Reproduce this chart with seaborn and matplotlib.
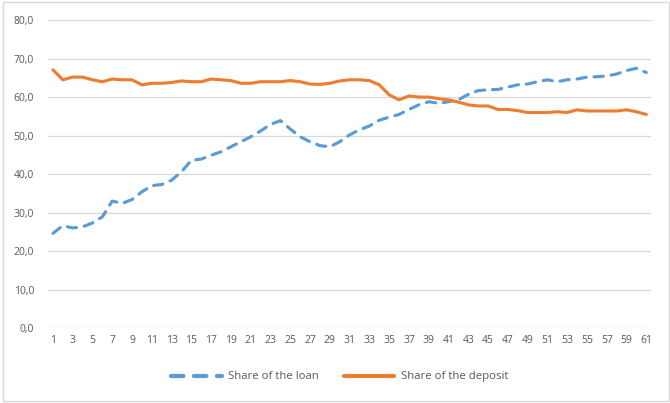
import numpy as np
import matplotlib.pyplot as plt
import pandas as pd
import seaborn as sns

periods = list(range(1, 62))
loan = [24.6, 26.6, 26.0, 26.3, 27.3, 28.9, 33.0, 32.4, 33.4, 35.4,
        37.0, 37.3, 38.4, 40.6, 43.6, 43.9, 44.9, 45.8, 47.1, 48.4,
        49.7, 51.2, 52.9, 53.9, 51.7, 49.7, 48.4, 47.4, 47.1, 48.4,
        50.2, 51.5, 52.5, 54.0, 54.8, 55.5, 56.8, 58.0, 58.8, 58.4,
        58.8, 59.3, 60.7, 61.7, 61.9, 62.0, 62.6, 63.2, 63.4, 64.0,
        64.5, 64.0, 64.5, 64.7, 65.2, 65.3, 65.5, 66.0, 66.9, 67.5, 66.4]
deposit = [67.1, 64.5, 65.2, 65.2, 64.5, 64.0, 64.7, 64.5, 64.5, 63.2,
           63.6, 63.6, 63.8, 64.2, 64.0, 64.0, 64.7, 64.5, 64.3, 63.6,
           63.6, 64.0, 64.0, 64.0, 64.3, 64.0, 63.4, 63.3, 63.6, 64.2,
           64.5, 64.5, 64.3, 63.2, 60.6, 59.3, 60.3, 60.0, 60.0, 59.6,
           59.3, 58.7, 58.0, 57.7, 57.7, 56.8, 56.8, 56.5, 56.0, 56.0,
           56.0, 56.2, 56.0, 56.7, 56.4, 56.4, 56.4, 56.4, 56.7, 56.2, 55.5]

df = pd.DataFrame({"period": periods * 2,
                   "value": loan + deposit,
                   "series": ["Share of the loan"] * 61 + ["Share of the deposit"] * 61})

sns.set_style("white")
plt.rcParams['font.family'] = ['Open Sans', 'DejaVu Sans']

fig = plt.figure(figsize=(6.7, 4.03), dpi=100)
ax = fig.add_axes([0.0716, 0.186, 0.9004, 0.764])

sns.lineplot(data=df, x="period", y="value", hue="series", style="series",
             palette={"Share of the loan": "#5B9BD5", "Share of the deposit": "#ED7D31"},
             dashes={"Share of the loan": (3, 2.5), "Share of the deposit": ""},
             linewidth=2.25, ax=ax)
for line in ax.lines:
    line.set_dash_capstyle("round")
    line.set_solid_capstyle("round")

ax.set_xlim(0.5, 61.5)
ax.set_ylim(0, 80)
ax.set_yticks(np.arange(0, 81, 10))
ax.set_yticklabels([f"{v:.1f}".replace(".", ",") for v in np.arange(0, 81, 10)])
ax.set_xticks(periods[::2])
ax.set_xlabel("")
ax.set_ylabel("")
ax.grid(axis="y", color="#D9D9D9", linewidth=0.9)
for s in ax.spines.values():
    s.set_visible(False)
ax.tick_params(axis="both", length=0, labelsize=7.5, colors="#595959")
ax.tick_params(axis="y", pad=10)
ax.tick_params(axis="x", pad=5)

handles, labels = ax.get_legend_handles_labels()
for h in handles:
    h.set_linewidth(3)
    h.set_dash_capstyle("round")
ax.legend(handles, labels, loc="center", bbox_to_anchor=(0.484, -0.159), ncol=2,
          frameon=False, fontsize=8.2, labelcolor="#595959", handlelength=4.4,
          columnspacing=2.2, handletextpad=0.6)

fig.patches.append(plt.Rectangle((0.004, 0.006), 0.994, 0.99, transform=fig.transFigure,
                                 fill=False, edgecolor="#D9D9D9", linewidth=1))

fig.savefig("out.png", dpi=100)
